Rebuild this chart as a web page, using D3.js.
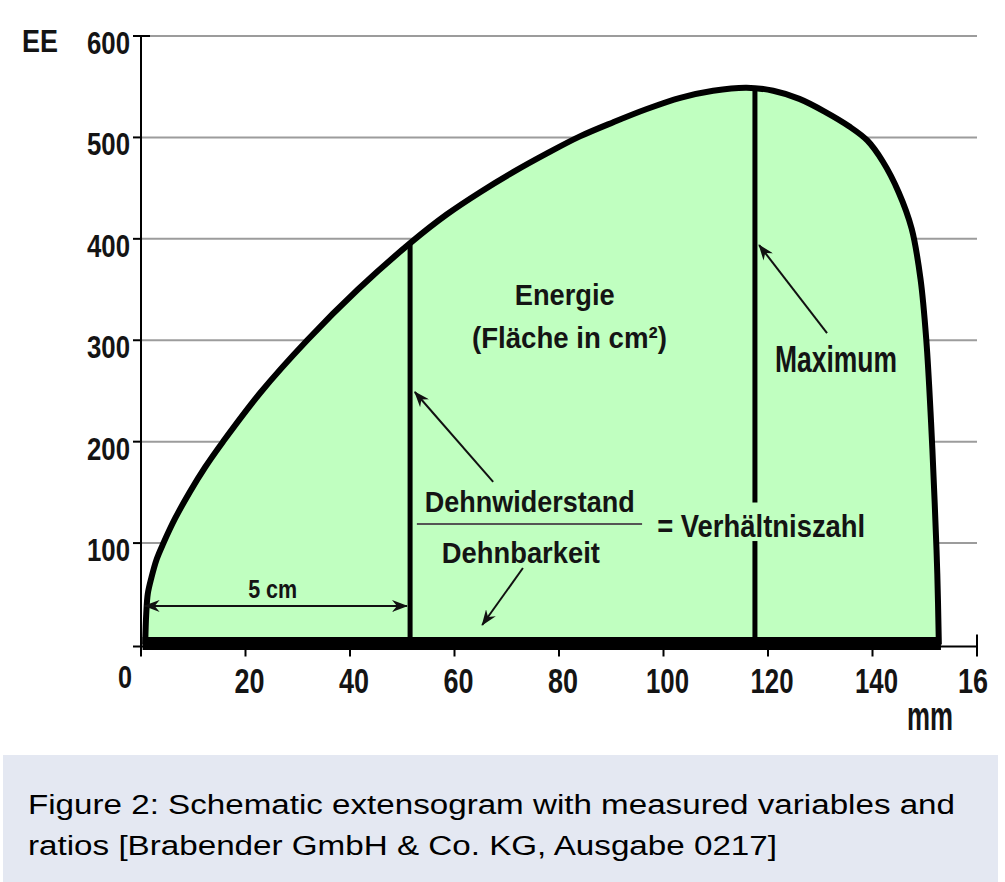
<!DOCTYPE html>
<html><head><meta charset="utf-8">
<script src="https://cdn.jsdelivr.net/npm/d3@7"></script>
<style>html,body{margin:0;padding:0;background:#fff;}svg{display:block;}</style>
</head><body>
<script>
// ---- data ----
const curveX = [0.8, 1.0, 1.3, 2.0, 3.0, 4.3, 6.5, 9.3, 12.3, 15.7, 22.8, 31.8, 41.5, 51.8, 58.5, 64.9, 71.3, 77.6, 84, 90.4, 96.8, 103.2, 109.5, 115.9, 121, 126, 131, 135.5, 139, 142, 145, 147.5, 149.2, 150.3, 151.2, 151.9, 152.4, 152.7];
const curveY = [0, 30, 50, 66, 84, 100, 124, 150, 175, 200, 248, 300, 350, 397, 424, 446, 466, 484, 501, 515, 528, 539, 546, 549, 546, 538, 525, 511, 497, 476, 446, 410, 360, 300, 220, 140, 70, 0];
const markerX = [51.5, 117.5];
const markerTop = [395, 549];
const yTicks = [100, 200, 300, 400, 500, 600];
const xTicks = [0, 20, 40, 60, 80, 100, 120, 140, 160];
const xTickLabels = ["0", "20", "40", "60", "80", "100", "120", "140", "16"];
const yTitle = "EE";
const xTitle = "mm";
const labels = ["Energie", "(Fläche in cm²)", "Maximum", "Dehnwiderstand", "Dehnbarkeit", "= Verhältniszahl", "5 cm"];
const captionLines = ["Figure 2: Schematic extensogram with measured variables and", "ratios [Brabender GmbH & Co. KG, Ausgabe 0217]"];

// ---- setup ----
const W = 1005, H = 882;
const svg = d3.select("body").append("svg").attr("width", W).attr("height", H);
const x = d3.scaleLinear().domain([0, 160]).range([141, 977]);
const y = d3.scaleLinear().domain([0, 600]).range([644.5, 36]);
const FONT = "'Liberation Sans Narrow','Arial Narrow','Liberation Sans',Arial,sans-serif";
const GREEN = "#c0ffc0";

const defs = svg.append("defs");
defs.append("marker").attr("id", "ah").attr("viewBox", "0 0 16 12")
  .attr("refX", 15).attr("refY", 6).attr("markerWidth", 16).attr("markerHeight", 12)
  .attr("markerUnits", "userSpaceOnUse").attr("orient", "auto-start-reverse")
  .append("path").attr("d", "M0,0 L16,6 L0,12 L5,6 Z").attr("fill", "#111");

function txt(g, str, cx, baseline, size, width, anchor, weight, family) {
  let left = anchor === "middle" ? cx - width / 2 : anchor === "end" ? cx - width : cx;
  return g.append("text").attr("x", left).attr("y", baseline)
    .attr("font-family", family || FONT).attr("font-size", size)
    .attr("font-weight", weight || "bold").attr("fill", "#141414")
    .attr("textLength", width).attr("lengthAdjust", "spacingAndGlyphs").text(str);
}

// ---- gridlines ----
svg.append("g").selectAll("line").data(yTicks).join("line")
  .attr("x1", x(0)).attr("x2", x(160)).attr("y1", d => y(d)).attr("y2", d => y(d))
  .attr("stroke", "#9c9c9c").attr("stroke-width", 2);

// ---- area ----
const pts = curveX.map((v, i) => [v, curveY[i]]);
const lineGen = d3.line().x(d => x(d[0])).y(d => y(d[1])).curve(d3.curveCatmullRom.alpha(0.5));
svg.append("path").attr("d", lineGen(pts) + "Z").attr("fill", GREEN).attr("stroke", "none");
svg.append("path").attr("d", lineGen(pts)).attr("fill", "none").attr("stroke", "#000")
  .attr("stroke-width", 6).attr("stroke-linejoin", "round");

// ---- axes ----
const axG = svg.append("g").attr("stroke", "#000");
axG.append("line").attr("x1", x(0)).attr("x2", x(0)).attr("y1", y(600)).attr("y2", y(0) + 9).attr("stroke-width", 2);
axG.selectAll(".yt").data([0].concat(yTicks)).join("line")
  .attr("x1", x(0) - 8).attr("x2", d => d === 600 ? x(0) + 9 : x(0))
  .attr("y1", d => d === 0 ? y(0) + 2 : y(d)).attr("y2", d => d === 0 ? y(0) + 2 : y(d)).attr("stroke-width", 2);
axG.append("line").attr("x1", x(0)).attr("x2", x(160)).attr("y1", y(0) + 2).attr("y2", y(0) + 2).attr("stroke-width", 2);
axG.selectAll(".xt").data(xTicks).join("line")
  .attr("x1", d => x(d)).attr("x2", d => x(d))
  .attr("y1", d => d === 160 ? y(0) - 10 : y(0) + 2).attr("y2", y(0) + 12).attr("stroke-width", 2);

// thick base of the curve
svg.append("line").attr("x1", x(0.3)).attr("x2", x(153.1)).attr("y1", y(0) - 1).attr("y2", y(0) - 1)
  .attr("stroke", "#000").attr("stroke-width", 13);

// ---- vertical markers ----
svg.append("g").selectAll("line").data(markerX).join("line")
  .attr("x1", d => x(d)).attr("x2", d => x(d))
  .attr("y1", y(0)).attr("y2", (d, i) => y(markerTop[i]))
  .attr("stroke", "#000").attr("stroke-width", 5);

// ---- tick labels ----
const tl = svg.append("g");
yTicks.forEach(v => txt(tl, String(v), 130, y(v) + 18, 32, 43, "end"));
xTicks.forEach((v, i) => {
  if (i === 0) { txt(tl, xTickLabels[i], 132, 688, 32, 14, "end"); return; }
  const s = xTickLabels[i];
  const cx = v === 160 ? x(v) - 4 : x(v) + 4;
  txt(tl, s, cx, 693, 35, s.length === 2 ? 30 : 43, "middle");
});
txt(tl, yTitle, x(0) - 119, 52, 31, 36, "start");
txt(tl, xTitle, 907, 730, 40, 46, "start");

// ---- annotations ----
const an = svg.append("g");
txt(an, labels[0], x(81.1), y(334.7), 29, 100, "middle");
txt(an, labels[1], x(82.0), y(292.4), 30, 195, "middle");
txt(an, labels[2], x(133.0), y(268.7), 36, 122, "middle");
txt(an, labels[3], x(74.4), y(130.6), 30, 210, "middle");
an.append("line").attr("x1", x(52.8)).attr("x2", x(95.9)).attr("y1", y(118.8)).attr("y2", y(118.8))
  .attr("stroke", "#555").attr("stroke-width", 2);
txt(an, labels[4], x(72.7), y(80.4), 30, 158, "middle");
an.append("rect").attr("x", x(98.8)).attr("y", y(140)).attr("width", 208).attr("height", y(102) - y(140)).attr("fill", GREEN);
txt(an, labels[5], x(98.8), y(106), 32, 208, "start");
txt(an, labels[6], x(25.2), y(45.9), 25, 49, "middle");

// arrows
const arrows = [
  [[0.7, 38], [50.9, 38], true],
  [[67.4, 160.3], [52.4, 249], false],
  [[73.1, 75.4], [65.3, 19.2], false],
  [[131.3, 307], [118.3, 393.9], false]
];
arrows.forEach(a => {
  const l = an.append("line").attr("x1", x(a[0][0])).attr("y1", y(a[0][1]))
    .attr("x2", x(a[1][0])).attr("y2", y(a[1][1]))
    .attr("stroke", "#111").attr("stroke-width", 2).attr("marker-end", "url(#ah)");
  if (a[2]) l.attr("marker-start", "url(#ah)");
});

// ---- caption ----
const cap = svg.append("g");
cap.append("rect").attr("x", 3).attr("y", 755).attr("width", 995).attr("height", 127).attr("fill", "#e4e8f2");
const CAPFONT = "'Liberation Sans',Arial,sans-serif";
txt(cap, captionLines[0], 28, 814, 27, 927, "start", "normal", CAPFONT).attr("fill", "#000");
txt(cap, captionLines[1], 28, 855, 27, 749, "start", "normal", CAPFONT).attr("fill", "#000");
</script>
</body></html>
